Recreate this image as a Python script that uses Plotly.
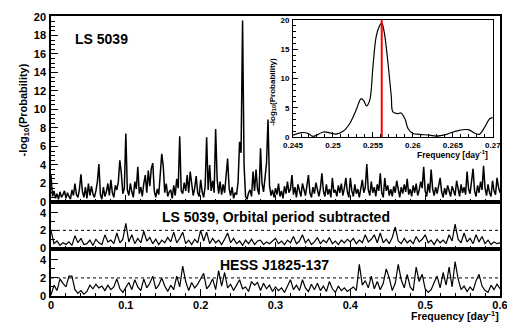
import numpy as np
import plotly.graph_objects as go

# ---------------- data ----------------
MAIN_STEP = 0.002
main_vals = [
    3.0, 0.6, 1.2, 0.4, 0.9, 0.3, 1.1, 0.5, 0.8, 1.2,
    0.4, 1.0, 0.6, 0.3, 1.3, 0.7, 2.0, 0.8, 0.5, 1.4,
    3.0, 1.1, 0.5, 1.6, 0.4, 2.0, 0.7, 1.7, 0.9, 0.5,
    1.2, 2.2, 4.1, 0.8, 0.3, 1.6, 0.6, 1.1, 2.0, 0.7,
    2.4, 1.0, 0.5, 1.8, 1.3, 2.2, 4.5, 3.1, 0.9, 1.5,
    7.4, 1.3, 0.7, 2.0, 1.1, 0.5, 2.2, 1.4, 3.8, 0.9,
    1.6, 0.6, 2.0, 2.9, 1.0, 3.4, 1.7, 3.6, 4.2, 1.2,
    0.5, 1.4, 0.8, 2.6, 5.2, 3.9, 1.0, 2.0, 0.6, 1.1,
    1.3, 0.4, 1.8, 0.7, 2.5, 1.5, 7.1, 1.2, 0.9, 2.1,
    1.2, 2.9, 1.0, 3.3, 2.0, 0.7, 1.5, 2.8, 1.0, 0.6,
    2.4, 1.1, 0.5, 1.7, 7.0, 1.3, 4.0, 1.2, 2.3, 1.0,
    7.9, 2.5, 0.9, 2.2, 0.8, 1.9, 1.0, 2.6, 4.7, 1.5,
    0.7, 1.6, 0.4, 1.0, 0.8, 2.2, 6.5, 5.3, 19.6, 4.0,
    0.6, 0.3, 1.0, 1.3, 0.6, 3.3, 1.2, 3.5, 1.4, 0.8,
    5.8, 2.0, 1.1, 2.6, 4.2, 8.9, 1.8, 0.7, 1.3, 0.5,
    1.5, 0.8, 2.0, 0.6, 1.2, 0.4, 1.7, 0.9, 2.2, 1.0,
    1.4, 2.9, 0.8, 1.6, 0.5, 1.9, 1.1, 0.6, 2.0, 1.2,
    0.7, 1.8, 2.9, 1.0, 0.5, 1.6, 0.9, 2.1, 1.3, 0.6,
    1.5, 3.1, 1.2, 0.6, 1.9, 0.8, 1.4, 0.5, 2.6, 1.0,
    1.3, 0.6, 1.8, 1.0, 2.0, 0.7, 1.5, 2.6, 1.1, 0.5,
    2.6, 1.2, 0.6, 1.9, 0.9, 1.4, 0.5, 1.7, 2.4, 1.0,
    1.6, 4.1, 1.3, 0.7, 2.2, 1.0, 1.6, 0.6, 1.9, 1.2,
    3.1, 1.0, 0.5, 2.6, 1.2, 1.8, 0.7, 1.4, 0.6, 1.7,
    1.0, 2.3, 1.2, 0.5, 1.6, 0.9, 1.9, 1.1, 2.5, 0.8,
    1.4, 0.6, 1.8, 1.0, 2.0, 0.7, 1.3, 2.2, 1.5, 3.8,
    1.2, 0.6, 2.0, 1.0, 3.5, 1.4, 0.7, 1.6, 0.9, 1.9,
    2.6, 1.1, 0.5, 1.5, 0.8, 1.8, 1.0, 0.6, 1.7, 1.2,
    0.7, 2.3, 1.3, 0.6, 1.9, 1.0, 1.6, 0.8, 3.3, 1.4,
    0.9, 2.0, 3.6, 1.2, 0.6, 1.8, 1.0, 2.2, 1.3, 3.9,
    1.5, 0.7, 1.9, 1.0, 0.6, 2.3, 1.2, 0.8, 2.6, 1.6,
    1.0,
]

SUB_STEP = 0.004
orbsub_vals = [
    2.0, 0.5, 0.8, 0.3, 0.6, 0.4, 0.7, 0.3, 1.4, 0.6,
    1.1, 0.4, 0.5, 0.9, 0.3, 1.0, 0.6, 0.4, 1.5, 0.7,
    0.9, 0.5, 1.7, 0.6, 1.0, 2.8, 0.7, 1.5, 0.5, 1.1,
    0.6, 1.9, 0.8, 1.2, 0.5, 1.0, 0.4, 0.9, 0.6, 1.2,
    0.7, 1.8, 0.6, 1.1, 1.8, 0.5, 0.9, 0.4, 1.0, 0.6,
    2.0, 0.8, 1.8, 0.5, 1.1, 0.6, 0.9, 0.4, 1.0, 1.7,
    0.6, 1.1, 0.5, 0.8, 0.3, 0.9, 0.5, 1.0, 0.4, 0.8,
    0.9, 0.4, 0.7, 0.5, 0.8, 1.1, 0.5, 0.8, 0.4, 0.9,
    0.6, 1.3, 0.5, 0.8, 1.5, 0.6, 1.0, 0.4, 0.7, 1.2,
    0.5, 0.9, 0.6, 1.2, 0.5, 0.8, 0.4, 0.9, 0.6, 1.0,
    0.7, 1.1, 0.5, 0.9, 0.6, 1.5, 0.7, 1.0, 1.5, 0.6,
    1.7, 0.6, 1.0, 0.5, 1.2, 2.4, 0.8, 0.5, 1.1, 0.6,
    0.9, 0.5, 1.3, 0.7, 1.0, 1.5, 0.6, 0.9, 0.4, 1.0,
    0.6, 0.9, 0.5, 1.5, 0.8, 2.7, 1.0, 0.6, 1.7, 0.7,
    1.1, 0.5, 1.5, 0.7, 1.3, 0.5, 0.9, 0.4, 0.7, 0.5,
    0.6,
]

hess_vals = [
    0.1, 1.2, 0.6, 1.9, 1.4, 1.0, 2.2, 2.2, 0.7, 0.3,
    0.6, 0.2, 0.5, 1.2, 0.8, 1.3, 0.9, 1.1, 0.6, 1.2,
    0.7, 1.0, 1.9, 0.8, 0.4, 0.9, 1.5, 0.7, 1.8, 1.0,
    0.6, 1.9, 0.9, 1.4, 2.2, 0.8, 1.2, 2.0, 1.1, 0.5,
    1.2, 0.7, 2.2, 1.0, 3.3, 1.6, 0.6, 1.5, 0.9, 1.3,
    1.9, 2.5, 0.8, 1.2, 1.9, 0.7, 2.8, 1.1, 2.6, 0.9,
    1.3, 0.6, 1.2, 1.8, 0.8, 1.0, 0.5, 1.6, 1.2, 1.5,
    0.6, 1.4, 0.8, 1.2, 0.5, 1.0, 0.6, 0.9, 0.4, 1.1,
    1.8, 0.7, 1.2, 0.6, 1.8, 0.9, 0.5, 1.3, 0.7, 1.4,
    0.6, 1.1, 0.5, 1.6, 0.8, 0.4, 1.1, 0.6, 0.9, 0.5,
    0.8, 1.0, 0.6, 3.5, 1.2, 1.7, 0.9, 2.2, 0.8, 1.6,
    0.7, 1.4, 3.0, 2.0, 0.6, 1.4, 3.5, 1.8, 0.9, 2.4,
    1.0, 0.6, 3.2, 1.6, 2.4, 0.8, 0.4, 0.7, 1.5, 2.2,
    0.9, 2.6, 1.2, 3.2, 1.0, 3.8, 1.9, 0.7, 1.1, 0.5,
    1.0, 0.6, 1.7, 2.4, 1.1, 0.6, 0.4, 1.2, 0.7, 1.3,
    0.8,
]

inset_freq = [0.2450, 0.2461, 0.2469, 0.2475, 0.2488, 0.2496, 0.2504, 0.2513,
              0.2521, 0.2529, 0.2535, 0.2538, 0.2542, 0.2546, 0.2550, 0.2554,
              0.2558, 0.2561, 0.2564, 0.2568, 0.2573, 0.2575, 0.2581, 0.2585,
              0.2590, 0.2594, 0.2600, 0.2608, 0.2621, 0.2629, 0.2642, 0.2654,
              0.2669, 0.2679, 0.2683, 0.2690, 0.2696, 0.2700]
inset_vals = [0.3, 0.75, 0.6, 0.1, 0.85, 0.7, 0.5, 1.0,
              2.3, 4.6, 6.5, 6.3, 5.3, 6.3, 12.0, 17.1,
              18.9, 19.5, 18.0, 13.7, 6.9, 4.3, 4.0, 4.1,
              3.1, 1.4, 0.6, 0.45, 0.3, 0.15, 0.45, 1.0,
              1.25, 0.55, 0.45, 1.7, 3.1, 3.3]
orbital_freq = 0.2561

x_ticks = [0, 0.1, 0.2, 0.3, 0.4, 0.5, 0.6]
x_ticklabels = ["0", "0.1", "0.2", "0.3", "0.4", "0.5", "0.6"]
inset_xticks = [0.245, 0.25, 0.255, 0.26, 0.265, 0.27]
inset_xticklabels = ["0.245", "0.25", "0.255", "0.26", "0.265", "0.27"]

freq_main = np.round(np.arange(len(main_vals)) * MAIN_STEP, 4)
freq_sub = np.round(np.arange(len(orbsub_vals)) * SUB_STEP, 4)
freq_hess = np.round(np.arange(len(hess_vals)) * SUB_STEP, 4)

# ---------------- figure ----------------
FONT = "Liberation Sans"
fig = go.Figure()
fig.add_trace(go.Scatter(x=freq_main, y=main_vals, mode="lines",
                         line=dict(color="black", width=1.5), xaxis="x", yaxis="y"))
fig.add_trace(go.Scatter(x=freq_sub, y=orbsub_vals, mode="lines",
                         line=dict(color="black", width=1.2), xaxis="x2", yaxis="y2"))
fig.add_trace(go.Scatter(x=freq_hess, y=hess_vals, mode="lines",
                         line=dict(color="black", width=1.2), xaxis="x3", yaxis="y3"))
fig.add_trace(go.Scatter(x=inset_freq, y=inset_vals, mode="lines", line_shape="spline",
                         line=dict(color="black", width=1.2), xaxis="x4", yaxis="y4"))
fig.add_trace(go.Scatter(x=[orbital_freq, orbital_freq], y=[0, 20], mode="lines",
                         line=dict(color="red", width=2), xaxis="x4", yaxis="y4"))

tickfont = dict(family=FONT, size=11, color="black", weight="bold")

def xax(anchor, labels):
    return dict(range=[0, 0.6], anchor=anchor, showline=True, linecolor="black", linewidth=1.5,
                mirror=True, ticks="inside", ticklen=7, tickwidth=1, tickcolor="black",
                tickvals=x_ticks, ticktext=x_ticklabels, showticklabels=labels,
                minor=dict(ticks="inside", ticklen=3, dtick=0.02, tick0=0, tickcolor="black"),
                showgrid=False, zeroline=False, tickfont=tickfont, fixedrange=True,
                automargin=False, ticklabelstandoff=-2, ticklabeloverflow="allow")

def yax(anchor, domain, rng, tickvals, minor_dtick):
    return dict(domain=domain, range=rng, anchor=anchor, showline=True, linecolor="black",
                linewidth=1.5, mirror=True, ticks="inside", ticklen=7, tickwidth=1,
                tickcolor="black", tickvals=tickvals,
                minor=dict(ticks="inside", ticklen=4, dtick=minor_dtick, tick0=0, tickcolor="black"),
                showgrid=False, zeroline=False, tickfont=tickfont, ticklabelstandoff=1,
                automargin=False, ticklabeloverflow="allow")

d1 = 0.1679
d2 = 0.3357
fig.update_layout(
    width=507, height=322,
    margin=dict(l=51, r=7, t=16, b=26),
    paper_bgcolor="white", plot_bgcolor="white",
    showlegend=False,
    font=dict(family=FONT, color="black"),
    xaxis=xax("y", False),
    xaxis2=xax("y2", False),
    xaxis3=xax("y3", True),
    yaxis=yax("x", [d2, 1], [0, 20.1], list(range(0, 21, 2)), 0.5),
    yaxis2=yax("x2", [d1, d2], [-0.1, 5.2], [0, 2, 4], 1),
    yaxis3=yax("x3", [0, d1], [0, 5.2], [0, 2, 4], 1),
    xaxis4=dict(domain=[0.539, 0.984], anchor="y4", range=[0.245, 0.27],
                showline=True, linecolor="black", linewidth=1, mirror=True,
                ticks="inside", ticklen=5, tickcolor="black", tickvals=inset_xticks,
                ticktext=inset_xticklabels, automargin=False, ticklabeloverflow="allow",
                minor=dict(ticks="inside", ticklen=2.5, dtick=0.001, tick0=0.245, tickcolor="black"),
                showgrid=False, zeroline=False,
                tickfont=dict(family=FONT, size=8, color="black", weight="bold")),
    yaxis4=dict(domain=[0.568, 0.986], anchor="x4", range=[0, 20],
                showline=True, linecolor="black", linewidth=1, mirror=True,
                ticks="inside", ticklen=5, tickcolor="black", tickvals=[0, 5, 10, 15, 20],
                minor=dict(ticks="inside", ticklen=2.5, dtick=1, tick0=0, tickcolor="black"),
                showgrid=False, zeroline=False, ticklabelstandoff=1, automargin=False,
                ticklabeloverflow="allow",
                tickfont=dict(family=FONT, size=8, color="black", weight="bold")),
    shapes=[
        dict(type="line", xref="x2", yref="y2", x0=0, x1=0.6, y0=2, y1=2,
             line=dict(color="black", width=1, dash="dot")),
        dict(type="line", xref="x3", yref="y3", x0=0, x1=0.6, y0=2, y1=2,
             line=dict(color="black", width=1, dash="dot")),
    ],
    annotations=[
        dict(text="-log<sub>10</sub>(Probability)", xref="paper", yref="paper",
             x=-0.08, y=0.836, textangle=-90, showarrow=False,
             font=dict(family=FONT, size=11, weight="bold")),
        dict(text="LS 5039", xref="paper", yref="paper", x=0.049, y=0.918,
             xanchor="left", yanchor="middle", showarrow=False,
             font=dict(family=FONT, size=14, weight="bold")),
        dict(text="LS 5039, Orbital period subtracted", xref="paper", yref="paper",
             x=0.5, y=0.282, xanchor="center", yanchor="middle", showarrow=False,
             font=dict(family=FONT, size=14, weight="bold")),
        dict(text="HESS J1825-137", xref="paper", yref="paper",
             x=0.498, y=0.111, xanchor="center", yanchor="middle", showarrow=False,
             font=dict(family=FONT, size=14, weight="bold")),
        dict(text="Frequency [day<sup>-1</sup>]", xref="paper", yref="paper",
             x=1.0, y=-0.097, xanchor="right", yanchor="bottom", showarrow=False,
             borderpad=0,
             font=dict(family=FONT, size=10.5, weight="bold")),
        dict(text="Frequency [day<sup>-1</sup>]", xref="paper", yref="paper",
             x=0.978, y=0.504, xanchor="right", yanchor="middle", showarrow=False,
             font=dict(family=FONT, size=8.5, weight="bold")),
        dict(text="-log<sub>10</sub>(Probability)", xref="paper", yref="paper",
             x=0.494, y=0.857, textangle=-90, showarrow=False, xanchor="center",
             font=dict(family=FONT, size=8, weight="bold")),
    ],
)

fig.write_html("out.html")
